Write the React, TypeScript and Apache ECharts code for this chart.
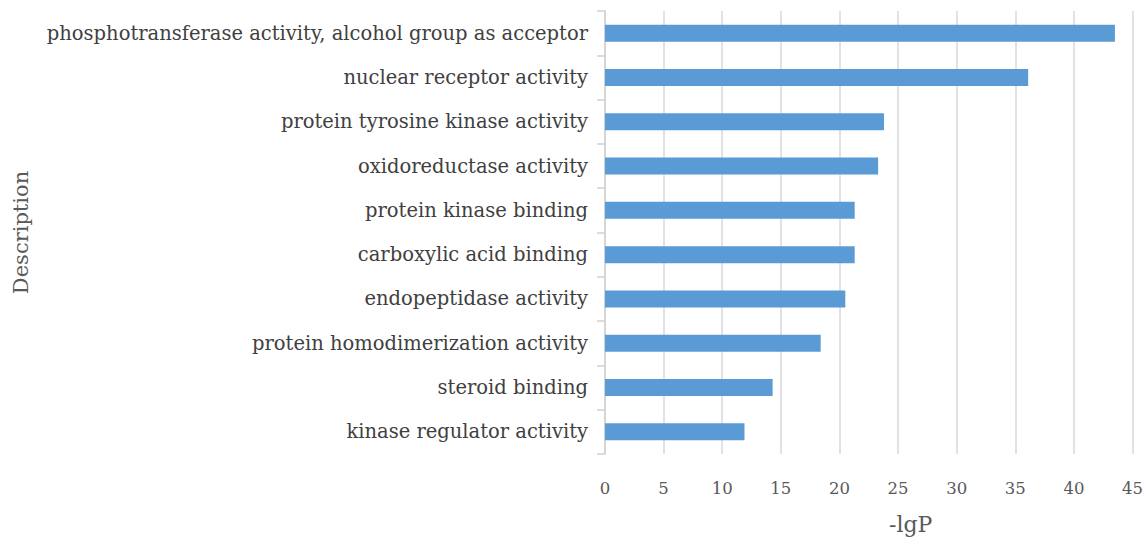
import React, { useEffect, useRef } from "react";
import * as echarts from "echarts";

const categories = [
  "phosphotransferase activity, alcohol group as acceptor",
  "nuclear receptor activity",
  "protein tyrosine kinase activity",
  "oxidoreductase activity",
  "protein kinase binding",
  "carboxylic acid binding",
  "endopeptidase activity",
  "protein homodimerization activity",
  "steroid binding",
  "kinase regulator activity",
];
const values = [43.5, 36.1, 23.8, 23.3, 21.3, 21.3, 20.5, 18.4, 14.3, 11.9];
const xName = "-lgP";
const yName = "Description";

const FONT = "'DejaVu Serif', 'Liberation Serif', serif";

export default function App() {
  const ref = useRef<HTMLDivElement>(null);
  useEffect(() => {
    if (!ref.current) return;
    const chart = echarts.init(ref.current, undefined, { renderer: "svg" });
    chart.setOption({
      animation: false,
      backgroundColor: "#ffffff",
      grid: { left: 605, right: 12, top: 11, bottom: 88, containLabel: false },
      xAxis: {
        type: "value",
        min: 0,
        max: 45,
        interval: 5,
        name: xName,
        nameLocation: "middle",
        nameGap: 59,
        nameTextStyle: { fontFamily: FONT, fontSize: 22, color: "#595959", padding: [0, 0, 0, 84] },
        axisLine: { show: false },
        axisTick: { show: false },
        splitLine: { show: true, lineStyle: { color: "#d9d9d9", width: 1.5 } },
        axisLabel: { fontFamily: FONT, fontSize: 16.5, color: "#595959", margin: 26 },
      },
      yAxis: {
        type: "category",
        data: categories,
        inverse: true,
        name: yName,
        nameLocation: "middle",
        nameGap: 574,
        nameRotate: 90,
        nameTextStyle: { fontFamily: FONT, fontSize: 21, color: "#595959" },
        axisLine: { show: true, lineStyle: { color: "#d0d0d0", width: 1.5 } },
        axisTick: { show: true, length: 8, lineStyle: { color: "#d0d0d0", width: 1.5 } },
        axisLabel: { fontFamily: FONT, fontSize: 19.5, color: "#404040", margin: 17 },
      },
      series: [
        {
          type: "bar",
          data: values,
          barWidth: 17,
          itemStyle: { color: "#5b9bd5" },
        },
      ],
    });
    return () => chart.dispose();
  }, []);
  return <div ref={ref} style={{ width: 1146, height: 542, position: "absolute", left: 0, top: 0 }} />;
}
